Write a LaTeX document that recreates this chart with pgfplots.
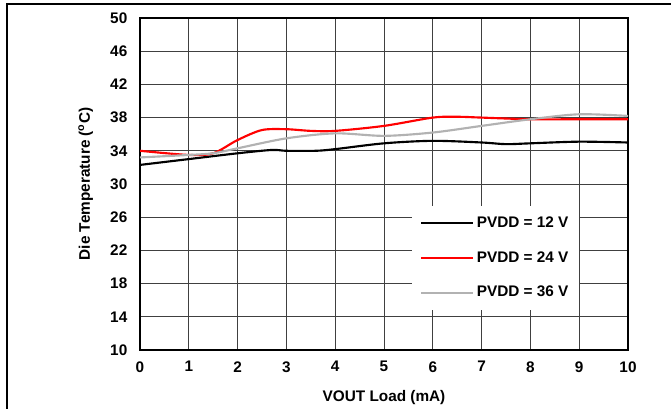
\documentclass[border=0pt]{standalone}
\usepackage{fontspec}
\setmainfont{Liberation Sans}
\usepackage{pgfplots}
\pgfplotsset{compat=1.18}
\begin{document}
\begin{tikzpicture}[x=0.75pt,y=0.75pt]
\useasboundingbox (-140,-59) rectangle (531,350);
\draw[black, line width=0.8pt] (-133,-59) -- (-133,346) -- (531,346);
\begin{axis}[
    at={(0,0)}, anchor=south west,
    scale only axis,
    width=366pt, height=249pt,
    xmin=0, xmax=10, ymin=10, ymax=50,
    xtick={0,...,10}, ytick={10,14,...,50},
    grid=major,
    major grid style={draw=black!75, line width=0.6pt},
    axis line style={line width=1.4pt},
    tick style={draw=none},
    font=\bfseries\fontsize{11.5}{13}\selectfont,
    /pgf/number format/assume math mode=true,
    xlabel={VOUT Load (mA)},
    ylabel={Die Temperature (\textsuperscript{o}C)},
    xlabel style={yshift=-7pt},
    ylabel style={yshift=6pt},
    xticklabel style={yshift=-5pt},
    yticklabel style={xshift=-6pt},
    legend style={at={(0.557,0.434)}, anchor=north west, draw=none, fill=white,
        row sep=12.5pt, font=\bfseries\fontsize{11.5}{13}\selectfont, inner sep=6pt},
    legend cell align=left,
    legend image post style={line width=1.6pt},
    legend image code/.code={\draw[#1] (0cm,0cm) -- (1.37cm,0cm);},
]
\addplot[black, line width=1.6pt, smooth] coordinates {
(0,32.3) (1,33.0) (2,33.7) (2.7,34.1) (3,34.0) (3.6,34.0) (4,34.2) (5,34.9) (6,35.2) (7,35.0) (7.5,34.8) (8,34.9) (9,35.1) (10,35.0)};
\addplot[red, line width=1.6pt, smooth] coordinates {
(0,34.0) (1,33.5) (1.5,33.7) (2,35.3) (2.5,36.5) (3,36.6) (3.5,36.4) (4,36.4) (5,37.0) (6,38.0) (6.5,38.1) (7,38.0) (8,37.8) (9,37.8) (10,37.8)};
\addplot[black!30, line width=1.6pt, smooth] coordinates {
(0,33.2) (1,33.5) (1.5,33.7) (2,34.3) (3,35.5) (4,36.1) (5,35.8) (6,36.2) (7,37.0) (8,37.8) (9,38.4) (10,38.2)};
\legend{PVDD = 12 V, PVDD = 24 V, PVDD = 36 V}
\end{axis}
\end{tikzpicture}
\end{document}
